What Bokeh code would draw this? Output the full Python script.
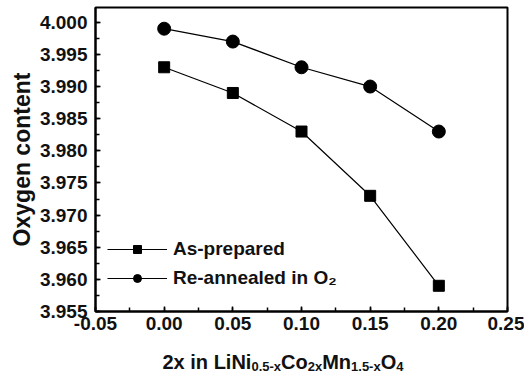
from bokeh.plotting import figure
from bokeh.models import FixedTicker, NumeralTickFormatter, Range1d, Legend, LegendItem, ColumnDataSource
from bokeh.layouts import column
from bokeh.core.properties import value
from bokeh.embed import file_html
from bokeh.resources import INLINE

# ---- data ----
x_vals = [0.00, 0.05, 0.10, 0.15, 0.20]
as_prepared = [3.993, 3.989, 3.983, 3.973, 3.959]
re_annealed = [3.999, 3.997, 3.993, 3.990, 3.983]
series_names = ["As-prepared", "Re-annealed in O\u2082"]
y_ticks = [3.955, 3.960, 3.965, 3.970, 3.975, 3.980, 3.985, 3.990, 3.995, 4.000]
x_ticks = [-0.05, 0.00, 0.05, 0.10, 0.15, 0.20, 0.25]
y_title = "Oxygen content"
# x title pieces: (text, is_subscript)
x_title_parts = [("2x in LiNi", False), ("0.5-x", True), ("Co", False), ("2x", True),
                 ("Mn", False), ("1.5-x", True), ("O", False), ("4", True)]

FONT = "Liberation Sans"
TXT = "#111111"
LEFT, RIGHT = 95, 17

p = figure(width=524, height=340, output_backend="svg", toolbar_location=None,
           x_range=Range1d(-0.05, 0.25), y_range=Range1d(3.955, 4.0023),
           min_border_left=LEFT, min_border_right=RIGHT, min_border_top=7, min_border_bottom=29)

p.xgrid.visible = False
p.ygrid.visible = False
p.outline_line_color = "black"
p.outline_line_width = 2
p.background_fill_color = "white"
p.border_fill_color = "white"

# axes
yt_minor = [round(y_ticks[0] + 0.0025 * i, 4) for i in range(2 * (len(y_ticks) - 1) + 1)]
xt_minor = [round(x_ticks[0] + 0.025 * i, 4) for i in range(2 * (len(x_ticks) - 1) + 1)]
p.yaxis.ticker = FixedTicker(ticks=y_ticks, minor_ticks=yt_minor)
p.xaxis.ticker = FixedTicker(ticks=x_ticks, minor_ticks=xt_minor)
p.yaxis.formatter = NumeralTickFormatter(format="0.000")
p.xaxis.formatter = NumeralTickFormatter(format="0.00")

for ax in (p.xaxis, p.yaxis):
    ax.axis_line_width = 2
    ax.axis_line_color = "black"
    ax.major_tick_in = 5
    ax.major_tick_out = 0
    ax.minor_tick_in = 4
    ax.minor_tick_out = 0
    ax.major_tick_line_width = 1.5
    ax.minor_tick_line_width = 1.5
    ax.major_label_text_font = FONT
    ax.major_label_text_font_style = "bold"
    ax.major_label_text_font_size = "19px"
    ax.major_label_text_color = TXT

p.yaxis.major_label_standoff = 8
p.xaxis.major_label_standoff = 5
p.yaxis.axis_label = y_title
p.yaxis.axis_label_text_font = FONT
p.yaxis.axis_label_text_font_style = "bold"
p.yaxis.axis_label_text_font_size = "23px"
p.yaxis.axis_label_text_color = TXT
p.yaxis.axis_label_standoff = 2

# series
l1 = p.line(x_vals, as_prepared, line_color="black", line_width=1.2)
s1 = p.scatter(x_vals, as_prepared, marker="square", size=11, fill_color="black", line_color="black")
l2 = p.line(x_vals, re_annealed, line_color="black", line_width=1.2)
s2 = p.scatter(x_vals, re_annealed, marker="circle", size=13, fill_color="black", line_color="black")

legend = Legend(items=[LegendItem(label=series_names[0], renderers=[l1, s1]),
                       LegendItem(label=series_names[1], renderers=[l2, s2])],
                location=(12, 22), padding=0, margin=0, spacing=7,
                glyph_width=60, glyph_height=20, label_height=20, label_standoff=6,
                border_line_color=None, background_fill_alpha=0)
legend.label_text_font = FONT
legend.label_text_font_style = "bold"
legend.label_text_font_size = "19px"
legend.label_text_color = TXT
p.add_layout(legend)

# ---- x axis title strip (text with subscripts); its frame spans the same pixels as the plot frame ----
strip_h = 33
t = figure(width=524, height=strip_h, output_backend="svg", toolbar_location=None,
           x_range=Range1d(LEFT, 524 - RIGHT), y_range=Range1d(0, strip_h),
           x_axis_type=None, y_axis_type=None,
           min_border_left=LEFT, min_border_right=RIGHT, min_border_top=0, min_border_bottom=0)
t.outline_line_color = None
t.xgrid.visible = False
t.ygrid.visible = False
t.background_fill_color = "white"
t.border_fill_color = "white"

# Liberation Sans Bold advance widths (per 1000 em)
W = {"0": 556, "1": 556, "2": 556, "4": 556, "5": 556, ".": 278, "-": 333, "x": 556, " ": 278,
     "i": 278, "n": 611, "L": 611, "N": 722, "C": 722, "o": 611, "M": 833, "O": 778}
main_size, sub_size = 20, 13
xs, ys, texts, sizes = [], [], [], []
cx = 162
for txt, sub in x_title_parts:
    size = sub_size if sub else main_size
    xs.append(cx)
    ys.append(7 if sub else 12)
    texts.append(txt)
    sizes.append(f"{size}px")
    cx += sum(W.get(c, 556) for c in txt) * size / 1000.0

src = ColumnDataSource(dict(x=xs, y=ys, text=texts, size=sizes))
t.text(x="x", y="y", text="text", source=src, text_font=value(FONT), text_font_style="bold",
       text_font_size="size", text_color=TXT, text_baseline="alphabetic", text_align="left")

layout = column(p, t, spacing=0)
open("out.html", "w").write(file_html(layout, INLINE))
